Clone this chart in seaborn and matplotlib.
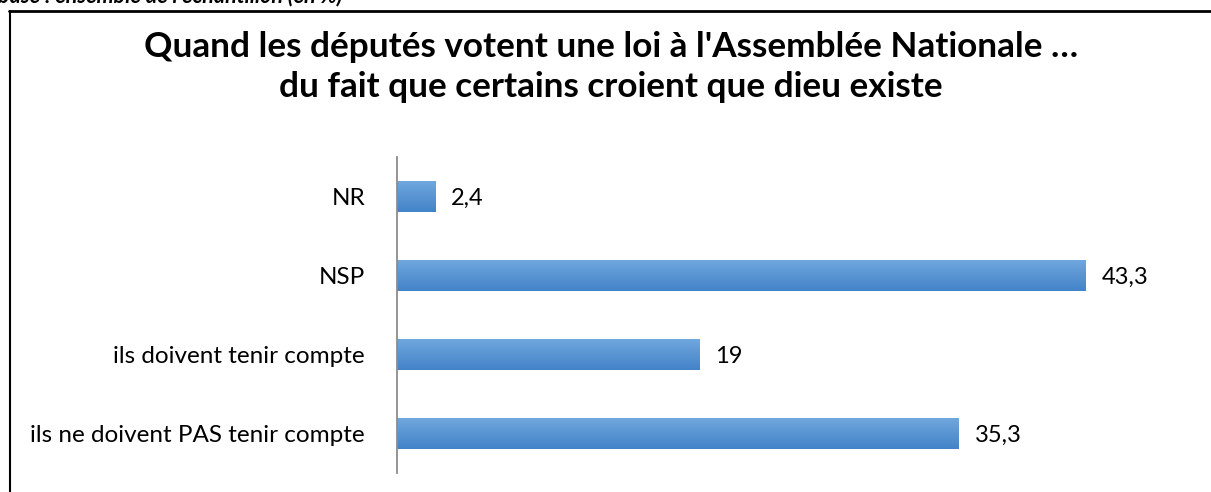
import matplotlib
matplotlib.use("Agg")
import matplotlib.pyplot as plt
import seaborn as sns
import numpy as np
import pandas as pd
from matplotlib.lines import Line2D

categories = ["NR", "NSP", "ils doivent tenir compte", "ils ne doivent PAS tenir compte"]
values = [2.4, 43.3, 19, 35.3]
value_labels = ["2,4", "43,3", "19", "35,3"]

title = "Quand les députés votent une loi à l'Assemblée Nationale …\ndu fait que certains croient que dieu existe"
subtitle = "base : ensemble de l'échantillon (en %)"

sns.set_style("white")
plt.rcParams["font.family"] = ["Lato", "DejaVu Sans"]
plt.rcParams["text.color"] = "black"

df = pd.DataFrame({"cat": categories, "val": values})

fig = plt.figure(figsize=(12.11, 4.92), dpi=100)
ax = fig.add_axes([397 / 1211, 1 - 473 / 492, (1211 - 397 - 60) / 1211, (473 - 157) / 492])

sns.barplot(data=df, x="val", y="cat", orient="h", width=0.39, color="#5b9bd5", ax=ax)

# gradient fill inside each bar
grad = np.linspace(0, 1, 64).reshape(-1, 1)
cmap = matplotlib.colors.LinearSegmentedColormap.from_list("bar", ["#70a7de", "#4383c8"])
for p in ax.patches:
    x0, y0 = p.get_x(), p.get_y()
    w, h = p.get_width(), p.get_height()
    ax.imshow(grad, extent=[x0, x0 + w, y0 + h, y0], cmap=cmap, aspect="auto", zorder=2)
    p.set_alpha(0)
ax.set_xlim(0, (1211 - 397 - 60) / 15.91)
ax.set_ylim(3.5, -0.5)

for i, (v, lab) in enumerate(zip(values, value_labels)):
    ax.text(v + 1.0, i + 0.02, lab, va="center", ha="left", fontsize=17, color="black")

ax.set_xlabel("")
ax.set_ylabel("")
ax.set_xticks([])
ax.tick_params(axis="y", length=0, pad=23, labelsize=17.5, labelcolor="black")
for s in ["top", "right", "bottom"]:
    ax.spines[s].set_visible(False)
ax.spines["left"].set_color("#8c8c8c")
ax.spines["left"].set_linewidth(1.3)

fig.text(611 / 1211, 1 - 67 / 492, title, ha="center", va="center", fontsize=25.3,
         fontweight="bold", linespacing=1.33, color="black")
fig.text(-2 / 1211, 1 - (-4) / 492, subtitle, ha="left", va="center", fontsize=15.5,
         fontweight="bold", style="italic", color="black")

fig.add_artist(Line2D([9 / 1211, 1], [1 - 11 / 492, 1 - 11 / 492], color="black", lw=2))
fig.add_artist(Line2D([9.5 / 1211, 9.5 / 1211], [0, 1 - 11 / 492], color="black", lw=1.5))

fig.savefig("out.png", dpi=100)
